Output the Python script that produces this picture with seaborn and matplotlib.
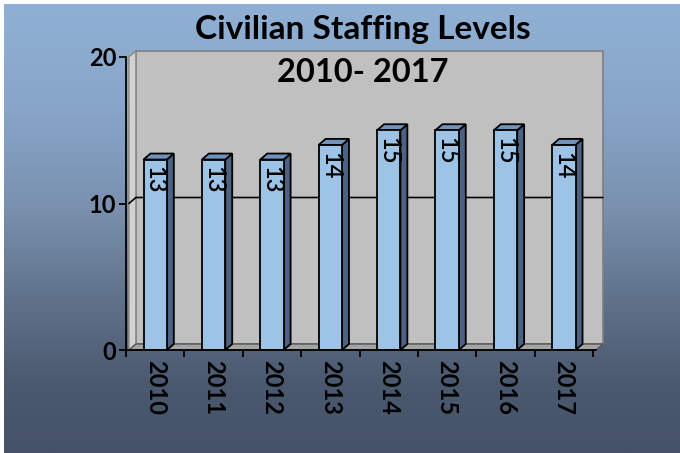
import numpy as np
import matplotlib
matplotlib.use("Agg")
import matplotlib.pyplot as plt
from matplotlib.patches import Polygon, Rectangle
from matplotlib.colors import LinearSegmentedColormap
import seaborn as sns

# Staffing data
years = ["2010", "2011", "2012", "2013", "2014", "2015", "2016", "2017"]
staff = [13, 13, 13, 14, 15, 15, 15, 14]
y_ticks = [0, 10, 20]
title_lines = ["Civilian Staffing Levels", "2010- 2017"]

W, H, DPI = 680, 453, 100
FRONT = "#9dc3e6"
SIDE = "#4b6282"
TOP = "#7092bb"
WALL = "#c0c0c0"
SIDE_WALL = "#d2d2d2"
FLOOR = "#a4a4a4"

sns.set_theme(style="white")
plt.rcParams["font.family"] = ["Lato", "DejaVu Sans"]
plt.rcParams["font.weight"] = "bold"
plt.rcParams["text.color"] = "black"
plt.rcParams["xtick.color"] = "black"
plt.rcParams["ytick.color"] = "black"
plt.rcParams["xtick.labelcolor"] = "black"
plt.rcParams["ytick.labelcolor"] = "black"

fig = plt.figure(figsize=(W / DPI, H / DPI), dpi=DPI, facecolor="white")

# Vertical gradient backdrop
bg = fig.add_axes([4 / W, 0, 1 - 4 / W, 1 - 4 / H], zorder=0)
cmap = LinearSegmentedColormap.from_list(
    "backdrop",
    [(0.0, (143/255, 176/255, 212/255)),
     (0.22, (136/255, 166/255, 202/255)),
     (0.45, (122/255, 145/255, 175/255)),
     (0.65, (97/255, 115/255, 140/255)),
     (0.85, (75/255, 89/255, 111/255)),
     (1.0, (69/255, 82/255, 104/255))])
grad = np.linspace(0, 1, 256).reshape(-1, 1)
bg.imshow(grad, aspect="auto", cmap=cmap, extent=[0, 1, 1, 0])
bg.set_axis_off()

# Main plotting area
left_px, right_px, top_px, bottom_px = 126, 596, 57, 350
ax = fig.add_axes([left_px / W, (H - bottom_px) / H,
                   (right_px - left_px) / W, (bottom_px - top_px) / H], zorder=1)
ax.patch.set_visible(False)

sns.barplot(x=years, y=staff, color=FRONT, saturation=1, width=0.4,
            edgecolor="black", linewidth=1.3, ax=ax, zorder=4)

ax.set_xlim(-0.45, len(years) - 0.45)
ax.set_ylim(0, 20)

# depth offset of the pseudo-3D look, in data units
px_x = (right_px - left_px) / len(years)
px_y = (bottom_px - top_px) / 20
dx = 7 / px_x
dy = 6 / px_y
x0, x1 = ax.get_xlim()

# back wall, side wall, floor
ax.add_patch(Rectangle((x0 + dx, dy), x1 - x0, 20, facecolor=WALL,
                       edgecolor="#7f7f7f", lw=1.2, zorder=0.5, clip_on=False))
ax.add_patch(Polygon([(x0, 0), (x0 + dx, dy), (x0 + dx, 20 + dy), (x0, 20)],
                     closed=True, facecolor=SIDE_WALL, edgecolor="#8a8a8a",
                     lw=1.0, zorder=0.6, clip_on=False))
ax.add_patch(Polygon([(x0, 0), (x1, 0), (x1 + dx, dy), (x0 + dx, dy)],
                     closed=True, facecolor=FLOOR, edgecolor="#555555",
                     lw=1.0, zorder=0.7, clip_on=False))

# gridline at 10 running across the side wall and back wall
ax.plot([x0, x0 + dx, x1 + dx], [10, 10 + dy, 10 + dy], color="black",
        lw=1.2, zorder=1, clip_on=False)

# side and top faces of each bar
bars = [p for p in ax.patches if isinstance(p, Rectangle) and p.get_width() < 1
        and p.get_height() > 0][:len(staff)]
for p in bars:
    bx, bw, bh = p.get_x(), p.get_width(), p.get_height()
    ax.add_patch(Polygon([(bx + bw, 0), (bx + bw + dx, dy), (bx + bw + dx, bh + dy),
                          (bx + bw, bh)], closed=True, facecolor=SIDE,
                         edgecolor="black", lw=1.3, zorder=3.5, clip_on=False))
    ax.add_patch(Polygon([(bx, bh), (bx + bw, bh), (bx + bw + dx, bh + dy),
                          (bx + dx, bh + dy)], closed=True, facecolor=TOP,
                         edgecolor="black", lw=1.3, zorder=3.5, clip_on=False))

# value labels inside bars
for p, v in zip(bars, staff):
    ax.annotate(str(v), (p.get_x() + p.get_width() / 2, v), xytext=(0, -5),
                textcoords="offset points", rotation=-90, ha="center", va="top",
                fontsize=17, fontweight="semibold", color="black", zorder=6)

# axes styling
for side in ["top", "right"]:
    ax.spines[side].set_visible(False)
for side in ["left", "bottom"]:
    ax.spines[side].set_color("black")
    ax.spines[side].set_linewidth(1.3)
    ax.spines[side].set_zorder(5)

ax.set_yticks(y_ticks)
ax.set_yticklabels([str(t) for t in y_ticks], fontweight="bold")
ax.tick_params(axis="y", length=5, width=1.3, color="black", pad=2, left=True,
               direction="out", labelsize=17, labelcolor="black")
ax.set_xticks(range(len(years)))
ax.set_xticklabels(years, rotation=-90, va="top", ha="center", fontweight="bold")
ax.tick_params(axis="x", which="major", length=0, pad=7, labelsize=17,
               labelcolor="black")
ax.set_xticks(np.arange(len(years) + 1) - 0.5, minor=True)
ax.tick_params(axis="x", which="minor", length=5, width=1.3, color="black",
               bottom=True, direction="out")
ax.set_xlabel("")
ax.set_ylabel("")

fig.text(363 / W, 1 - 30 / H, title_lines[0], ha="center", va="center",
         fontsize=24, fontweight="bold", color="black", zorder=10)
fig.text(363 / W, 1 - 72 / H, title_lines[1], ha="center", va="center",
         fontsize=23.5, fontweight="bold", color="black", zorder=10)

fig.savefig("out.png", dpi=DPI, facecolor="white")
